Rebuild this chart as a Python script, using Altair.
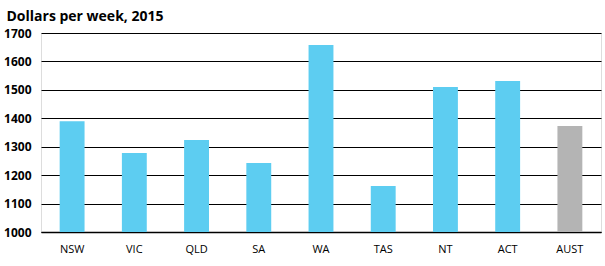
import altair as alt
import pandas as pd

states = ["NSW", "VIC", "QLD", "SA", "WA", "TAS", "NT", "ACT", "AUST"]
values = [1390, 1278, 1324, 1243, 1658, 1162, 1510, 1531, 1373]
groups = ["state"] * 8 + ["national"]

df = pd.DataFrame({"state": states, "value": values, "group": groups})

chart = alt.Chart(df).mark_bar().encode(
    x=alt.X("state:N", sort=states, title=None,
            scale=alt.Scale(paddingInner=0.6, paddingOuter=0.3),
            axis=alt.Axis(labelAngle=0, labelFont="Open Sans", labelFontSize=11,
                          labelColor="#000", labelPadding=11, ticks=False,
                          domain=True, domainColor="#000", domainWidth=1.5, grid=False)),
    y=alt.Y("value:Q", title="Dollars per week, 2015",
            scale=alt.Scale(domain=[1000, 1700], nice=False, zero=False),
            axis=alt.Axis(values=[1000, 1100, 1200, 1300, 1400, 1500, 1600, 1700],
                          format="d",
                          labelFont="Open Sans", labelFontSize=12, labelFontWeight="bold",
                          labelColor="#000", labelPadding=10, ticks=False, domain=False,
                          grid=True, gridColor="#000", gridWidth=1.2,
                          titleAngle=0, titleX=-35, titleY=-13, titleAlign="left",
                          titleBaseline="alphabetic", titleFont="Open Sans",
                          titleFontSize=14, titleFontWeight="bold", titleColor="#000")),
    y2=alt.datum(1000),
    color=alt.Color("group:N", scale=alt.Scale(domain=["state", "national"],
                                              range=["#5DCDF1", "#B4B4B4"]), legend=None),
).properties(
    width=560, height=199,
    autosize=alt.AutoSizeParams(type="none"),
    padding={"left": 41, "top": 33, "right": 4, "bottom": 34},
).configure_view(stroke=None).configure(background="#ffffff")

chart.save("out.html", embed_options={"renderer": "svg", "actions": False})
